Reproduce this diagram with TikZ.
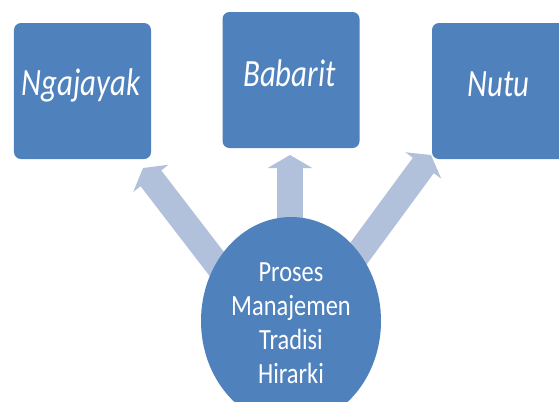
\documentclass[tikz,border=0pt]{standalone}
\usepackage{fontspec}
\setmainfont{Carlito}
\usetikzlibrary{arrows.meta,shapes.geometric}
\definecolor{boxblue}{HTML}{4F81BD}
\definecolor{arrowblue}{HTML}{B2C1DB}
\tikzset{
  boxnode/.style={draw=none, fill=boxblue, rounded corners=7bp, minimum width=137bp, minimum height=136bp, inner sep=0pt},
  boxtext/.style={anchor=base, text=white, inner sep=0pt, font=\fontsize{31}{36}\selectfont\itshape},
  centre/.style={ellipse, fill=boxblue, minimum width=180bp, minimum height=208bp, inner sep=0pt},
  centretext/.style={anchor=base, text=white, inner sep=0pt, font=\fontsize{24.5}{28.5}\selectfont},
  fatarrow/.style={draw=arrowblue, line width=26bp, -{Triangle[width=44bp,length=13bp]}}
}
\begin{document}
\begin{tikzpicture}[x=1bp,y=-1bp]
\useasboundingbox (0,0) rectangle (559,401);
\clip (0,0) rectangle (559,401);
\fill[white] (0,0) rectangle (559,401);
% tails of arrows (inside the ellipse)
\coordinate (tl) at (226,276);
\coordinate (tm) at (290,250);
\coordinate (tr) at (342,276);
\coordinate (hl) at (143,168);
\coordinate (hm) at (290,155);
\coordinate (hr) at (431,155);
\node[boxnode] (ngajayak) at (82.5,91) {};
\node[boxnode] (babarit) at (291,80) {};
\node[boxnode] (nutu) at (500.5,91) {};
\draw[fatarrow] (tl) -- (hl);
\draw[fatarrow] (tm) -- (hm);
\draw[fatarrow] (tr) -- (hr);
\node[centre] (proses) at (291,321) {};
\node[boxtext] (t1) at (81,95) {\scalebox{1}[1.25]{Ngajayak}};
\node[boxtext] (t2) at (289.5,86) {\scalebox{1}[1.25]{Babarit}};
\node[boxtext] (t3) at (498.5,96.5) {\scalebox{1}[1.25]{Nutu}};
\node[centretext] (t4) at (291,281) {\scalebox{1}[1.2]{\begin{tabular}[t]{@{}c@{}}Proses\\Manajemen\\Tradisi\\Hirarki\end{tabular}}};
\end{tikzpicture}
\end{document}
